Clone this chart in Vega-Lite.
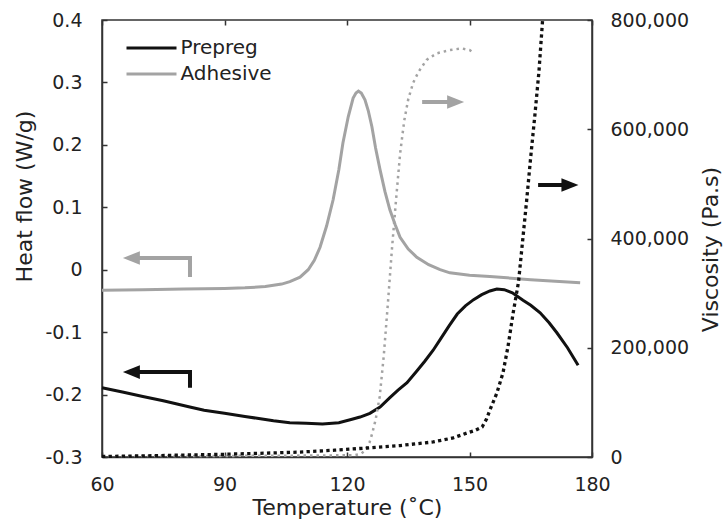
{
  "$schema": "https://vega.github.io/schema/vega-lite/v6.json",
  "width": 490,
  "height": 437,
  "autosize": {"type": "none"},
  "padding": {"left": 102, "top": 20, "right": 132, "bottom": 69},
  "background": "white",
  "config": {
    "view": {"stroke": "#333", "strokeWidth": 1.5},
    "font": "DejaVu Sans",
    "axis": {
      "labelFont": "DejaVu Sans", "titleFont": "DejaVu Sans",
      "labelFontSize": 19, "titleFontSize": 22, "titleFontWeight": "normal",
      "labelColor": "#222", "titleColor": "#222", "grid": false,
      "domainColor": "#333", "domainWidth": 1.5,
      "tickColor": "#333", "tickWidth": 1.5, "tickSize": -5, "labelFlush": false
    },
    "legend": {
      "orient": "none", "legendX": 35.5, "legendY": 14,
      "symbolType": "M-2,0L2,0", "symbolSize": 625, "symbolStrokeWidth": 3,
      "labelFont": "DejaVu Sans", "labelFontSize": 20, "labelColor": "#222",
      "labelOffset": 15, "rowPadding": 2, "padding": 0, "title": null
    }
  },
  "datasets": {
    "hf": [
      {"s": "Adhesive", "T": 60, "v": -0.033},
      {"s": "Adhesive", "T": 70, "v": -0.032},
      {"s": "Adhesive", "T": 80, "v": -0.031},
      {"s": "Adhesive", "T": 90, "v": -0.030},
      {"s": "Adhesive", "T": 95, "v": -0.029},
      {"s": "Adhesive", "T": 100, "v": -0.027},
      {"s": "Adhesive", "T": 104, "v": -0.023},
      {"s": "Adhesive", "T": 106, "v": -0.019},
      {"s": "Adhesive", "T": 108.5, "v": -0.012},
      {"s": "Adhesive", "T": 110.5, "v": 0.0},
      {"s": "Adhesive", "T": 112, "v": 0.015},
      {"s": "Adhesive", "T": 113.4, "v": 0.036},
      {"s": "Adhesive", "T": 115, "v": 0.07},
      {"s": "Adhesive", "T": 116.6, "v": 0.112},
      {"s": "Adhesive", "T": 118, "v": 0.16},
      {"s": "Adhesive", "T": 119, "v": 0.203},
      {"s": "Adhesive", "T": 120.3, "v": 0.245},
      {"s": "Adhesive", "T": 121.5, "v": 0.275},
      {"s": "Adhesive", "T": 122.2, "v": 0.283},
      {"s": "Adhesive", "T": 122.8, "v": 0.286},
      {"s": "Adhesive", "T": 123.5, "v": 0.283},
      {"s": "Adhesive", "T": 124.4, "v": 0.272},
      {"s": "Adhesive", "T": 125.2, "v": 0.255},
      {"s": "Adhesive", "T": 126.1, "v": 0.229},
      {"s": "Adhesive", "T": 127, "v": 0.195},
      {"s": "Adhesive", "T": 128.1, "v": 0.16},
      {"s": "Adhesive", "T": 129.3, "v": 0.125},
      {"s": "Adhesive", "T": 130.5, "v": 0.096},
      {"s": "Adhesive", "T": 131.8, "v": 0.072},
      {"s": "Adhesive", "T": 133, "v": 0.052},
      {"s": "Adhesive", "T": 135, "v": 0.033},
      {"s": "Adhesive", "T": 137.1, "v": 0.02},
      {"s": "Adhesive", "T": 140, "v": 0.008},
      {"s": "Adhesive", "T": 142.8, "v": 0.0},
      {"s": "Adhesive", "T": 145.2, "v": -0.005},
      {"s": "Adhesive", "T": 150, "v": -0.009},
      {"s": "Adhesive", "T": 155, "v": -0.011},
      {"s": "Adhesive", "T": 159.2, "v": -0.013},
      {"s": "Adhesive", "T": 165, "v": -0.016},
      {"s": "Adhesive", "T": 170, "v": -0.018},
      {"s": "Adhesive", "T": 177.1, "v": -0.021},
      {"s": "Prepreg", "T": 60, "v": -0.189},
      {"s": "Prepreg", "T": 65, "v": -0.196},
      {"s": "Prepreg", "T": 70, "v": -0.203},
      {"s": "Prepreg", "T": 75, "v": -0.21},
      {"s": "Prepreg", "T": 81.5, "v": -0.22},
      {"s": "Prepreg", "T": 85, "v": -0.225},
      {"s": "Prepreg", "T": 90, "v": -0.23},
      {"s": "Prepreg", "T": 95, "v": -0.235},
      {"s": "Prepreg", "T": 98, "v": -0.238},
      {"s": "Prepreg", "T": 102, "v": -0.242},
      {"s": "Prepreg", "T": 106, "v": -0.245},
      {"s": "Prepreg", "T": 110, "v": -0.246},
      {"s": "Prepreg", "T": 114, "v": -0.247},
      {"s": "Prepreg", "T": 118, "v": -0.245},
      {"s": "Prepreg", "T": 121, "v": -0.24},
      {"s": "Prepreg", "T": 123.2, "v": -0.236},
      {"s": "Prepreg", "T": 125.6, "v": -0.23},
      {"s": "Prepreg", "T": 128.1, "v": -0.22},
      {"s": "Prepreg", "T": 130.5, "v": -0.205},
      {"s": "Prepreg", "T": 132.5, "v": -0.193},
      {"s": "Prepreg", "T": 134.7, "v": -0.181},
      {"s": "Prepreg", "T": 137, "v": -0.163},
      {"s": "Prepreg", "T": 139, "v": -0.147},
      {"s": "Prepreg", "T": 141.1, "v": -0.129},
      {"s": "Prepreg", "T": 143, "v": -0.11},
      {"s": "Prepreg", "T": 145, "v": -0.09},
      {"s": "Prepreg", "T": 147, "v": -0.071},
      {"s": "Prepreg", "T": 149, "v": -0.058},
      {"s": "Prepreg", "T": 151, "v": -0.048},
      {"s": "Prepreg", "T": 153, "v": -0.04},
      {"s": "Prepreg", "T": 155, "v": -0.034},
      {"s": "Prepreg", "T": 156.7, "v": -0.031},
      {"s": "Prepreg", "T": 158.5, "v": -0.032},
      {"s": "Prepreg", "T": 160.5, "v": -0.037},
      {"s": "Prepreg", "T": 163.1, "v": -0.049},
      {"s": "Prepreg", "T": 165, "v": -0.057},
      {"s": "Prepreg", "T": 167.3, "v": -0.069},
      {"s": "Prepreg", "T": 169.5, "v": -0.085},
      {"s": "Prepreg", "T": 171.4, "v": -0.101},
      {"s": "Prepreg", "T": 174, "v": -0.125},
      {"s": "Prepreg", "T": 176.6, "v": -0.153}
    ],
    "arrows": [
      {"s": "Adhesive", "arrow": "a1", "o": 1, "T": 81.55, "v": -0.0117},
      {"s": "Adhesive", "arrow": "a1", "o": 2, "T": 81.55, "v": 0.0188},
      {"s": "Adhesive", "arrow": "a1", "o": 3, "T": 67.2, "v": 0.0188},
      {"s": "Prepreg", "arrow": "a2", "o": 1, "T": 81.55, "v": -0.189},
      {"s": "Prepreg", "arrow": "a2", "o": 2, "T": 81.55, "v": -0.164},
      {"s": "Prepreg", "arrow": "a2", "o": 3, "T": 67.2, "v": -0.164},
      {"s": "Adhesive", "arrow": "a3", "o": 1, "T": 138.4, "v": 0.2687},
      {"s": "Adhesive", "arrow": "a3", "o": 2, "T": 146.6, "v": 0.2687},
      {"s": "Prepreg", "arrow": "a4", "o": 1, "T": 166.8, "v": 0.1357},
      {"s": "Prepreg", "arrow": "a4", "o": 2, "T": 174.6, "v": 0.1357}
    ],
    "heads": [
      {"s": "Adhesive", "dir": "left", "T": 67.2, "v": 0.0188},
      {"s": "Prepreg", "dir": "left", "T": 67.2, "v": -0.164},
      {"s": "Adhesive", "dir": "right", "T": 146.6, "v": 0.2687},
      {"s": "Prepreg", "dir": "right", "T": 174.6, "v": 0.1357}
    ],
    "viscAdh": [
      {"T": 60, "visc": 1500}, {"T": 80, "visc": 1800}, {"T": 100, "visc": 2200},
      {"T": 115, "visc": 2800}, {"T": 122, "visc": 3500}, {"T": 123.5, "visc": 6000},
      {"T": 124.5, "visc": 13000}, {"T": 125.5, "visc": 26000}, {"T": 126.2, "visc": 44000},
      {"T": 127, "visc": 68000}, {"T": 128, "visc": 110000}, {"T": 129, "visc": 185000},
      {"T": 130, "visc": 280000}, {"T": 131, "visc": 380000}, {"T": 132, "visc": 470000},
      {"T": 133, "visc": 555000}, {"T": 134, "visc": 615000}, {"T": 135, "visc": 655000},
      {"T": 136.2, "visc": 685000}, {"T": 137.5, "visc": 705000}, {"T": 139.5, "visc": 727000},
      {"T": 142, "visc": 739000}, {"T": 145.2, "visc": 745000}, {"T": 148.1, "visc": 748000},
      {"T": 150, "visc": 745000}, {"T": 151.2, "visc": 739000}
    ],
    "viscPre": [
      {"T": 60, "visc": 1000}, {"T": 70, "visc": 2000}, {"T": 80, "visc": 3500},
      {"T": 90, "visc": 5000}, {"T": 100, "visc": 7000}, {"T": 108.5, "visc": 9000},
      {"T": 117, "visc": 12500}, {"T": 124.9, "visc": 16500}, {"T": 133, "visc": 21000},
      {"T": 141.1, "visc": 27500}, {"T": 146, "visc": 35000}, {"T": 149.4, "visc": 44000},
      {"T": 151.5, "visc": 49000}, {"T": 153.1, "visc": 55000}, {"T": 154.2, "visc": 70000},
      {"T": 155, "visc": 86000}, {"T": 156.7, "visc": 117000}, {"T": 158.2, "visc": 154000},
      {"T": 159.4, "visc": 201000}, {"T": 160.7, "visc": 264000}, {"T": 162, "visc": 320000},
      {"T": 163, "visc": 395000}, {"T": 164, "visc": 470000}, {"T": 165, "visc": 550000},
      {"T": 166, "visc": 625000}, {"T": 167, "visc": 705000}, {"T": 167.9, "visc": 800000}
    ]
  },
  "layer": [
    {
      "encoding": {
        "x": {
          "field": "T", "type": "quantitative",
          "scale": {"domain": [60, 180], "nice": false},
          "axis": {"values": [60, 90, 120, 150, 180], "title": "Temperature (˚C)", "labelPadding": 23, "titlePadding": 3}
        },
        "y": {
          "field": "v", "type": "quantitative",
          "scale": {"domain": [-0.3, 0.4], "nice": false},
          "axis": {
            "values": [-0.3, -0.2, -0.1, 0, 0.1, 0.2, 0.3, 0.4],
            "labelExpr": "datum.value == 0 ? '0' : (datum.value < 0 ? '-' : '') + format(abs(datum.value), '.1f')",
            "title": "Heat flow (W/g)", "labelPadding": 25, "titlePadding": 8, "titleY": 176
          }
        },
        "color": {
          "field": "s", "type": "nominal",
          "scale": {"domain": ["Prepreg", "Adhesive"], "range": ["#111111", "#a3a3a3"]}
        }
      },
      "resolve": {"legend": {"color": "independent"}},
      "layer": [
        {"data": {"name": "hf"}, "mark": {"type": "line", "strokeWidth": 3}},
        {
          "data": {"name": "arrows"},
          "mark": {"type": "line", "strokeWidth": 4, "strokeJoin": "miter", "strokeCap": "butt"},
          "encoding": {
            "detail": {"field": "arrow"},
            "order": {"field": "o", "type": "quantitative"},
            "color": {"field": "s", "type": "nominal", "legend": null}
          }
        },
        {
          "data": {"name": "heads"},
          "mark": {"type": "point", "filled": true, "opacity": 1, "size": 289, "strokeWidth": 0},
          "encoding": {
            "shape": {
              "field": "dir", "type": "nominal", "legend": null,
              "scale": {"domain": ["left", "right"], "range": ["M-1,0L1,-0.8L1,0.8Z", "M1,0L-1,-0.8L-1,0.8Z"]}
            },
            "color": {"field": "s", "type": "nominal", "legend": null}
          }
        }
      ]
    },
    {
      "encoding": {
        "x": {
          "field": "T", "type": "quantitative",
          "scale": {"domain": [60, 180], "nice": false},
          "axis": {"orient": "top", "values": [60, 90, 120, 150, 180], "labels": false, "title": null, "domain": false}
        },
        "y": {
          "field": "visc", "type": "quantitative",
          "scale": {"domain": [0, 800000], "nice": false},
          "axis": {
            "orient": "right", "values": [0, 200000, 400000, 600000, 800000], "format": ",d",
            "title": "Viscosity (Pa.s)", "titleAngle": 270, "labelPadding": 23, "titlePadding": 34, "titleY": 229
          }
        }
      },
      "layer": [
        {"data": {"name": "viscAdh"}, "mark": {"type": "line", "color": "#a3a3a3", "strokeWidth": 2.5, "strokeDash": [2.5, 4]}},
        {"data": {"name": "viscPre"}, "mark": {"type": "line", "color": "#111111", "strokeWidth": 3.3, "strokeDash": [3.3, 3.3]}}
      ]
    }
  ],
  "resolve": {"scale": {"y": "independent"}, "axis": {"x": "independent"}}
}
